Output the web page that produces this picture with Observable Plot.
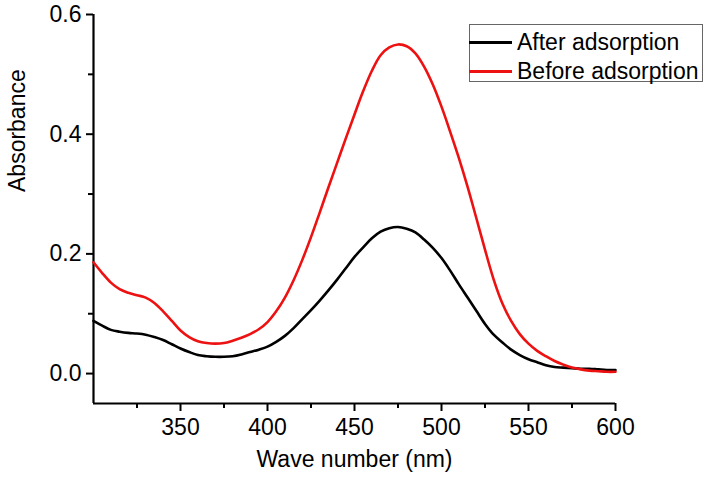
<!DOCTYPE html>
<html>
<head>
<meta charset="utf-8">
<script src="https://cdn.jsdelivr.net/npm/d3@7"></script>
<script src="https://cdn.jsdelivr.net/npm/@observablehq/plot@0.6"></script>
<style>
  html, body { margin: 0; padding: 0; background: #fff; }
  #wrap { position: relative; width: 708px; height: 481px; font-family: "Liberation Sans", Arial, sans-serif; }
  #legend { position: absolute; left: 469px; top: 24px; width: 234px; height: 58px; border: 1px solid #666; box-sizing: border-box; background: #fff; }
  .row { position: absolute; left: 0; height: 24px; display: flex; align-items: center; }
  .sw { width: 43px; height: 3px; margin-left: -1px; }
  .lab { margin-left: 5px; font-size: 23px; color: #000; white-space: nowrap; }
</style>
</head>
<body>
<div id="wrap">
  <div id="chart"></div>
  <div id="legend"></div>
</div>
<script>
const seriesNames = ["After adsorption", "Before adsorption"];
const seriesColors = ["#000000", "#ee1111"];

const wavelengths = [300,305,310,315,320,325,330,335,340,345,350,355,360,365,370,375,380,385,390,395,400,405,410,415,420,425,430,435,440,445,450,455,460,465,470,475,480,485,490,495,500,505,510,515,520,525,530,535,540,545,550,555,560,565,570,575,580,585,590,595,600];

const afterAbs = [0.088,0.080,0.073,0.070,0.068,0.067,0.065,0.061,0.056,0.049,0.042,0.036,0.031,0.029,0.028,0.028,0.029,0.032,0.036,0.040,0.045,0.053,0.063,0.076,0.091,0.106,0.122,0.139,0.157,0.176,0.195,0.211,0.226,0.237,0.243,0.245,0.242,0.236,0.224,0.210,0.193,0.172,0.149,0.127,0.105,0.083,0.065,0.052,0.040,0.031,0.024,0.019,0.014,0.011,0.010,0.009,0.008,0.008,0.007,0.006,0.006];

const beforeAbs = [0.186,0.168,0.152,0.141,0.135,0.131,0.127,0.118,0.104,0.088,0.072,0.061,0.054,0.051,0.050,0.051,0.055,0.060,0.066,0.074,0.086,0.104,0.127,0.156,0.190,0.228,0.269,0.311,0.352,0.393,0.433,0.472,0.506,0.532,0.545,0.550,0.547,0.535,0.513,0.483,0.446,0.404,0.360,0.312,0.260,0.207,0.157,0.117,0.088,0.066,0.050,0.038,0.029,0.021,0.015,0.010,0.007,0.005,0.004,0.003,0.003];

const xMajor = [350, 400, 450, 500, 550, 600];
const xMinor = [325, 375, 425, 475, 525, 575];
const yMajor = [0.0, 0.2, 0.4, 0.6];
const yMinor = [0.1, 0.3, 0.5];
const xDomain = [300, 600];
const yDomain = [-0.05, 0.6];

const after = wavelengths.map((w, i) => ({wl: w, abs: afterAbs[i], s: seriesNames[0]}));
const before = wavelengths.map((w, i) => ({wl: w, abs: beforeAbs[i], s: seriesNames[1]}));

const chart = Plot.plot({
  width: 708,
  height: 481,
  marginLeft: 93,
  marginRight: 93,
  marginTop: 14,
  marginBottom: 78,
  style: {fontFamily: '"Liberation Sans", Arial, sans-serif', fontSize: "23px", color: "#000", background: "#fff"},
  x: {domain: xDomain},
  y: {domain: yDomain},
  marks: [
    Plot.axisX({ticks: xMajor, tickSize: 8, tickPadding: 7, tickFormat: d => String(d), label: null, strokeWidth: 2}),
    Plot.axisX({ticks: xMinor, tickSize: 5, tickFormat: () => "", label: null, strokeWidth: 2}),
    Plot.axisY({ticks: yMajor, tickSize: 7, tickPadding: 5, tickFormat: d => d.toFixed(1), label: null, strokeWidth: 2}),
    Plot.axisY({ticks: yMinor, tickSize: 5, tickFormat: () => "", label: null, strokeWidth: 2}),
    Plot.ruleY([yDomain[0]], {stroke: "#000", strokeWidth: 2.2}),
    Plot.ruleX([xDomain[0]], {stroke: "#000", strokeWidth: 2.2}),
    Plot.line(after, {x: "wl", y: "abs", stroke: seriesColors[0], strokeWidth: 2.6, curve: "catmull-rom"}),
    Plot.line(before, {x: "wl", y: "abs", stroke: seriesColors[1], strokeWidth: 2.6, curve: "catmull-rom"}),
    Plot.text(["Wave number (nm)"], {frameAnchor: "bottom", dy: 63, fontSize: 23, fill: "#000"}),
    Plot.text(["Absorbance"], {frameAnchor: "left", dx: -76, dy: -17, rotate: -90, fontSize: 23, fill: "#000"})
  ]
});
document.getElementById("chart").appendChild(chart);

const legend = document.getElementById("legend");
const rowTops = [5, 34];
seriesNames.forEach((name, i) => {
  const row = document.createElement("div");
  row.className = "row";
  row.style.top = rowTops[i] + "px";
  const sw = document.createElement("div");
  sw.className = "sw";
  sw.style.background = seriesColors[i];
  const lab = document.createElement("span");
  lab.className = "lab";
  lab.textContent = name;
  row.appendChild(sw);
  row.appendChild(lab);
  legend.appendChild(row);
});
</script>
</body>
</html>
